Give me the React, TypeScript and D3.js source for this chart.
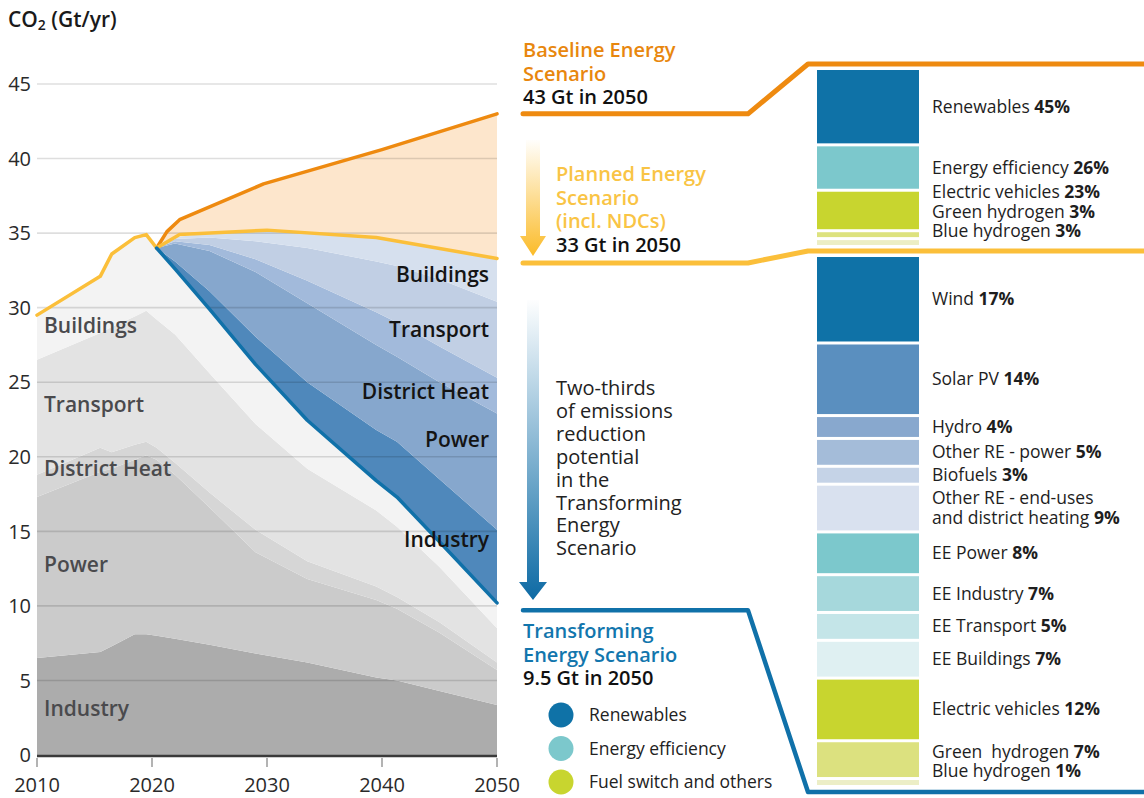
import React from "react";
import * as d3 from "d3";

// ---------------- data ----------------
const stackYears = [2010, 2015.5, 2016.5, 2018.5, 2019.5, 2020.4, 2022, 2025, 2029, 2033.5, 2039.5, 2041.3, 2045, 2050];
const sectorNames = ["Industry", "Power", "District Heat", "Transport", "Buildings"];
// Transforming Energy Scenario emissions by sector (Gt/yr)
const emitIndustry = [6.5, 6.9, 7.3, 8.1, 8.1, 8.0, 7.8, 7.4, 6.8, 6.2, 5.2, 5.0, 4.3, 3.35];
const emitPower = [10.8, 12.1, 11.9, 11.7, 12.0, 11.8, 11.0, 9.2, 6.8, 5.6, 5.2, 4.8, 3.9, 2.35];
const emitDistrictHeat = [1.5, 1.6, 1.1, 1.0, 0.9, 0.8, 0.8, 1.0, 1.5, 1.2, 0.9, 0.8, 0.7, 0.5];
const emitTransport = [7.7, 7.7, 8.4, 8.6, 8.8, 8.6, 8.6, 8.0, 7.1, 6.2, 5.1, 4.7, 3.7, 2.3];
const emitBuildings = [3.0, 3.8, 4.9, 5.3, 5.1, 4.8, 4.4, 4.3, 4.0, 3.25, 2.0, 2.0, 1.7, 1.7];

// Reduction (Planned -> Transforming) by sector
const reductionYears = [2020.4, 2022, 2025, 2029, 2033.5, 2039.5, 2041.3, 2045, 2050];
const transformingValues = [34.0, 32.6, 29.9, 26.2, 22.45, 18.4, 17.3, 14.3, 10.2];
const redIndustry = [0, 0.5, 1.2, 1.85, 2.55, 3.4, 3.7, 4.2, 4.9];
const redPower = [0, 1.2, 2.7, 4.35, 5.3, 5.7, 5.7, 6.5, 7.8];
const redDistrictHeat = [0, 0.15, 0.4, 0.85, 1.5, 2.2, 2.3, 2.4, 2.4];
const redTransport = [0, 0.15, 0.5, 1.2, 2.2, 3.4, 3.8, 4.5, 5.1];
const redBuildings = [0, 0.12, 0.3, 0.71, 1.02, 1.6, 1.66, 2.07, 2.9];

// Historical + Planned Energy Scenario
const plannedYears = [2010, 2015.5, 2016.5, 2018.5, 2019.5, 2020.4, 2022.4, 2030, 2039.5, 2050];
const plannedValues = [29.5, 32.1, 33.6, 34.7, 34.9, 34.0, 34.9, 35.2, 34.7, 33.3];
// Baseline Energy Scenario
const baselineYears = [2020.4, 2021.3, 2022.4, 2029.7, 2040, 2050];
const baselineValues = [34.0, 35.1, 35.9, 38.3, 40.6, 43.0];

const yTicks = [0, 5, 10, 15, 20, 25, 30, 35, 40, 45];
const xTicks = [2010, 2020, 2030, 2040, 2050];

// Scenario totals in 2050 (Gt)
const scenarioTitles = ["Baseline Energy\nScenario", "Planned Energy\nScenario\n(incl. NDCs)", "Transforming\nEnergy Scenario"];
const scenarioTotals = [43, 33, 9.5];

// Reduction shares
const topItems = ["Renewables", "Energy efficiency", "Electric vehicles", "Green hydrogen", "Blue hydrogen"];
const topShares = [45, 26, 23, 3, 3];
const bottomItems = [
  "Wind", "Solar PV", "Hydro", "Other RE - power", "Biofuels",
  "Other RE - end-uses\nand district heating", "EE Power", "EE Industry", "EE Transport",
  "EE Buildings", "Electric vehicles", "Green  hydrogen", "Blue hydrogen",
];
const bottomShares = [17, 14, 4, 5, 3, 9, 8, 7, 5, 7, 12, 7, 1];

const legendItems = ["Renewables", "Energy efficiency", "Fuel switch and others"];

// ---------------- styles ----------------
const greyColors: Record<string, string> = {
  Industry: "#acacac", Power: "#cbcbcb", "District Heat": "#d6d6d6", Transport: "#e3e3e3", Buildings: "#f3f3f3",
};
const blueColors: Record<string, string> = {
  Industry: "#4f88bb", Power: "#86a7cd", "District Heat": "#a2badb", Transport: "#c1cfe4", Buildings: "#d6e0ee",
};
const topColors = ["#0f72a7", "#7cc8cc", "#c8d52f", "#dde27f", "#eceec4"];
const bottomColors = [
  "#0f72a7", "#5a8fbf", "#88a8ce", "#a4bcd9", "#c5d3e7", "#d9e1ef",
  "#7cc8cc", "#a6d8dc", "#c4e5e8", "#dff0f2", "#c8d52f", "#dce17f", "#eceec6",
];
const legendColors = ["#0f72a7", "#7cc8cc", "#c8d52f"];
const ORANGE = "#ee8a10";
const YELLOW = "#fbbf3a";
const BLUE = "#1071a9";

const FONT = "'Open Sans', 'DejaVu Sans', sans-serif";

function dodge(desired: number[], sizes: number[], maxBottom: number): number[] {
  type Cl = { items: number[]; top: number };
  const H = (c: Cl) => d3.sum(c.items, (i) => sizes[i]);
  const place = (c: Cl) => {
    const h = H(c);
    let top = d3.mean(c.items, (i) => desired[i])! - h / 2;
    if (top + h > maxBottom) top = maxBottom - h;
    c.top = top;
  };
  const cls: Cl[] = desired.map((d, i) => ({ items: [i], top: d - sizes[i] / 2 }));
  cls.forEach(place);
  let merged = true;
  while (merged) {
    merged = false;
    for (let i = 1; i < cls.length; i++) {
      const p = cls[i - 1], c = cls[i];
      if (p.top + H(p) > c.top + 0.01) {
        p.items = p.items.concat(c.items);
        cls.splice(i, 1);
        place(p);
        merged = true;
        break;
      }
    }
  }
  const out: number[] = [];
  cls.forEach((c) => {
    let yy = c.top;
    c.items.forEach((i) => {
      out[i] = yy + sizes[i] / 2;
      yy += sizes[i];
    });
  });
  return out;
}

function buildBars(shares: number[], y0: number, y1: number, gap: number) {
  const total = d3.sum(shares);
  const s = d3.scaleLinear().domain([0, total]).range([0, y1 - y0 - gap * (shares.length - 1)]);
  let cur = y0;
  return shares.map((v) => {
    const top = cur;
    const h = s(v);
    cur += h + gap;
    return { top, h, center: top + h / 2 };
  });
}

export default function App() {
  const x = d3.scaleLinear().domain([2010, 2050]).range([37, 497]);
  const y = d3.scaleLinear().domain([0, 45]).range([755, 84]);

  const emitBySector: Record<string, number[]> = {
    Industry: emitIndustry, Power: emitPower, "District Heat": emitDistrictHeat,
    Transport: emitTransport, Buildings: emitBuildings,
  };
  const redBySector: Record<string, number[]> = {
    Industry: redIndustry, Power: redPower, "District Heat": redDistrictHeat,
    Transport: redTransport, Buildings: redBuildings,
  };

  const greyRows = stackYears.map((yr, i) => {
    const r: any = { year: yr };
    sectorNames.forEach((k) => (r[k] = emitBySector[k][i]));
    return r;
  });
  const greyStack = d3.stack<any>().keys(sectorNames)(greyRows);

  const blueRows = reductionYears.map((yr, i) => {
    const r: any = { year: yr, base: transformingValues[i] };
    sectorNames.forEach((k) => (r[k] = redBySector[k][i]));
    return r;
  });
  const blueStack = d3.stack<any>().keys(["base", ...sectorNames])(blueRows);

  const area = d3
    .area<any>()
    .x((d) => x(d.data.year))
    .y0((d) => y(d[0]))
    .y1((d) => y(d[1]));

  const line = d3
    .line<[number, number]>()
    .x((d) => x(d[0]))
    .y((d) => y(d[1]));

  const plannedPts: [number, number][] = plannedYears.map((yr, i) => [yr, plannedValues[i]]);
  const baselinePts: [number, number][] = baselineYears.map((yr, i) => [yr, baselineValues[i]]);
  const transPts: [number, number][] = reductionYears.map((yr, i) => [yr, transformingValues[i]]);
  const peachPts = baselinePts.concat(plannedPts.filter((p) => p[0] >= baselineYears[0]).reverse());

  // right bar
  const barX = 817, barW = 102;
  const topBars = buildBars(topShares, 70, 245, 3);
  const botBars = buildBars(bottomShares, 257, 785, 3);
  const lineH = 19.5;
  const topLabelY = dodge(topBars.map((b) => b.center), topItems.map(() => lineH), 241);
  const botLabelY = dodge(
    botBars.map((b) => b.center),
    bottomItems.map((t) => t.split("\n").length * lineH),
    781
  );

  const connY = [
    [y(scenarioTotals[0]), topBars[0].top - 6],
    [y(scenarioTotals[1]), (topBars[topBars.length - 1].top + topBars[topBars.length - 1].h + botBars[0].top) / 2],
    [y(scenarioTotals[2]) - 3, botBars[botBars.length - 1].top + botBars[botBars.length - 1].h + 7],
  ];
  const connColors = [ORANGE, YELLOW, BLUE];
  const connWidths = [5, 5, 4.5];

  const greyLabelY: Record<string, number> = { Buildings: 333, Transport: 412, "District Heat": 476, Power: 572, Industry: 716 };
  const blueLabelY: Record<string, number> = { Buildings: 282, Transport: 337, "District Heat": 399, Power: 447, Industry: 547 };

  const twoThirds = ["Two-thirds", "of emissions", "reduction", "potential", "in the", "Transforming", "Energy", "Scenario"];

  const renderLabel = (name: string, pct: number, cy: number, key: string) => {
    const lines = name.split("\n");
    const n = lines.length;
    return (
      <text key={key} x={932} y={cy - ((n - 1) * lineH) / 2 + 6} fontSize={17.5} fill="#1e1e1e" style={{ whiteSpace: "pre" }}>
        {lines.map((ln, j) => (
          <tspan key={j} x={932} dy={j === 0 ? 0 : lineH}>
            {ln}
            {j === n - 1 ? (
              <>
                {" "}
                <tspan fontWeight={700}>{pct}%</tspan>
              </>
            ) : null}
          </tspan>
        ))}
      </text>
    );
  };

  return (
    <svg
      width={1144}
      height={798}
      style={{ position: "absolute", left: 0, top: 0, background: "#fff" }}
      fontFamily={FONT}
    >
      <defs>
        <linearGradient id="yArrow" gradientUnits="userSpaceOnUse" x1={0} y1={138} x2={0} y2={256}>
          <stop offset="0" stopColor="#fbbd2d" stopOpacity={0} />
          <stop offset="1" stopColor="#fbbb28" stopOpacity={1} />
        </linearGradient>
        <linearGradient id="bArrow" gradientUnits="userSpaceOnUse" x1={0} y1={298} x2={0} y2={600}>
          <stop offset="0" stopColor="#0f6fa8" stopOpacity={0} />
          <stop offset="1" stopColor="#0d6aa4" stopOpacity={1} />
        </linearGradient>
      </defs>

      {/* grey stacked areas */}
      {greyStack.map((s) => (
        <path key={"g" + s.key} d={area(s as any) || ""} fill={greyColors[s.key]} />
      ))}
      {/* blue reduction areas */}
      {blueStack
        .filter((s) => s.key !== "base")
        .map((s) => (
          <path key={"b" + s.key} d={area(s as any) || ""} fill={blueColors[s.key]} />
        ))}
      {/* peach area */}
      <path d={(line(peachPts) || "") + "Z"} fill="#fde6cc" />

      {/* grid */}
      {yTicks
        .filter((t) => t !== 0)
        .map((t) => (
          <line key={"grid" + t} x1={x(2010)} x2={x(2050)} y1={y(t)} y2={y(t)} stroke="#000" strokeOpacity={0.13} strokeWidth={1.6} />
        ))}

      {/* lines */}
      <path d={line(baselinePts) || ""} fill="none" stroke={ORANGE} strokeWidth={3.5} strokeLinejoin="round" strokeLinecap="round" />
      <path d={line(plannedPts) || ""} fill="none" stroke={YELLOW} strokeWidth={3.5} strokeLinejoin="round" strokeLinecap="round" />
      <path d={line(transPts) || ""} fill="none" stroke={BLUE} strokeWidth={3.5} strokeLinejoin="round" strokeLinecap="round" />

      {/* axes */}
      <line x1={x(2010)} x2={x(2050)} y1={y(0) + 1} y2={y(0) + 1} stroke="#3a3a3a" strokeWidth={2.5} />
      {xTicks.map((t) => (
        <g key={"xt" + t}>
          <line x1={x(t)} x2={x(t)} y1={758} y2={767} stroke="#9a9a9a" strokeWidth={1.5} />
          <text x={x(t)} y={792} textAnchor="middle" fontSize={20} fill="#2a2a2a">
            {t}
          </text>
        </g>
      ))}
      {yTicks.map((t) => (
        <text key={"yt" + t} x={31} y={y(t)} dy="0.36em" textAnchor="end" fontSize={20} fill="#2a2a2a">
          {t}
        </text>
      ))}
      <text x={8} y={27} fontSize={21} fontWeight={600} fill="#1a1a1a">
        CO<tspan fontSize={14} dy={3}>2</tspan>
        <tspan dy={-3}> (Gt/yr)</tspan>
      </text>

      {/* sector labels */}
      {sectorNames.map((k) => (
        <text key={"gl" + k} x={44} y={greyLabelY[k]} fontSize={21} fontWeight={600} fill="#4a4a4d">
          {k}
        </text>
      ))}
      {sectorNames.map((k) => (
        <text key={"bl" + k} x={489} y={blueLabelY[k]} textAnchor="end" fontSize={21} fontWeight={600} fill="#141414">
          {k}
        </text>
      ))}

      {/* connectors */}
      {connY.map((c, i) => (
        <path
          key={"conn" + i}
          d={`M523,${c[0]} L748,${c[0]} L808,${c[1]} L1144,${c[1]}`}
          fill="none"
          stroke={connColors[i]}
          strokeWidth={connWidths[i]}
          strokeLinecap="round"
          strokeLinejoin="round"
        />
      ))}

      {/* scenario titles */}
      {[
        { x: 523, y: 57, color: "#e8870e" },
        { x: 556, y: 181, color: "#f9c445" },
        { x: 523, y: 638, color: "#1276ad" },
      ].map((p, i) => {
        const lines = scenarioTitles[i].split("\n");
        return (
          <text key={"st" + i} x={p.x} y={p.y} fontSize={20} fontWeight={600}>
            {lines.map((ln, j) => (
              <tspan key={j} x={p.x} dy={j === 0 ? 0 : 23.5} fill={p.color}>
                {ln}
              </tspan>
            ))}
            <tspan x={p.x} dy={23.5} fill="#111">
              {scenarioTotals[i]} Gt in 2050
            </tspan>
          </text>
        );
      })}

      {/* arrows */}
      <path d="M526,140 L540,140 L540,236 L546,236 L533,256 L520,236 L526,236 Z" fill="url(#yArrow)" />
      <path d="M527,300 L539,300 L539,582 L547,582 L533,600 L519,582 L527,582 Z" fill="url(#bArrow)" />

      <text x={556} y={395} fontSize={20} fill="#222">
        {twoThirds.map((t, i) => (
          <tspan key={i} x={556} dy={i === 0 ? 0 : 22.9}>
            {t}
          </tspan>
        ))}
      </text>

      {/* legend */}
      {legendItems.map((t, i) => (
        <g key={"lg" + i}>
          <circle cx={561} cy={715 + i * 33.5} r={12.5} fill={legendColors[i]} />
          <text x={589} y={715 + i * 33.5 + 6} fontSize={17.5} fill="#222">
            {t}
          </text>
        </g>
      ))}

      {/* right bars */}
      {topBars.map((b, i) => (
        <rect key={"tb" + i} x={barX} y={b.top} width={barW} height={b.h} fill={topColors[i]} />
      ))}
      {botBars.map((b, i) => (
        <rect key={"bb" + i} x={barX} y={b.top} width={barW} height={b.h} fill={bottomColors[i]} />
      ))}
      {topItems.map((t, i) => renderLabel(t, topShares[i], topLabelY[i], "tl" + i))}
      {bottomItems.map((t, i) => renderLabel(t, bottomShares[i], botLabelY[i], "bl" + i))}
    </svg>
  );
}
